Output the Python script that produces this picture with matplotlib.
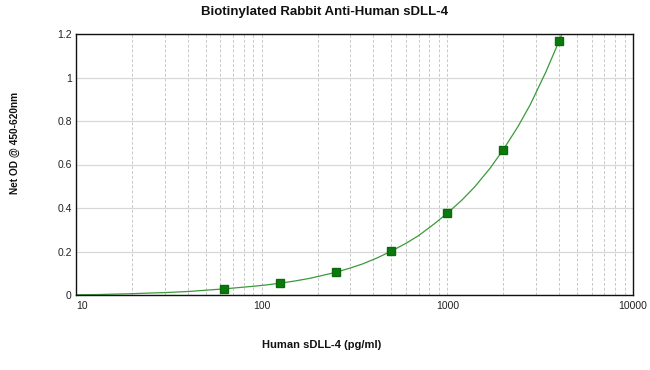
import matplotlib
matplotlib.use("Agg")
import matplotlib.pyplot as plt
from matplotlib.ticker import LogLocator, NullFormatter, FixedLocator, FixedFormatter

plt.rcParams['font.family'] = ['Liberation Sans', 'DejaVu Sans']

# Standard points (concentration pg/ml, net OD)
conc = [62.5, 125, 250, 500, 1000, 2000, 4000]
od = [0.028, 0.054, 0.104, 0.202, 0.376, 0.668, 1.168]

# Fitted curve
curve_x = [10, 13, 16, 20, 25, 30, 40, 50, 62.5, 75, 90, 105, 125, 150, 180, 210,
           250, 300, 350, 420, 500, 600, 700, 850, 1000, 1200, 1400, 1700, 2000,
           2400, 2800, 3400, 4000, 4400]
curve_y = [0.001, 0.002, 0.004, 0.006, 0.009, 0.011, 0.016, 0.022, 0.028, 0.034,
           0.040, 0.046, 0.054, 0.064, 0.076, 0.089, 0.104, 0.124, 0.143, 0.171,
           0.202, 0.238, 0.273, 0.327, 0.376, 0.437, 0.496, 0.583, 0.668, 0.774,
           0.876, 1.027, 1.168, 1.257]

x_ticks = [10, 100, 1000, 10000]
x_tick_labels = ["10", "100", "1000", "10000"]
y_ticks = [0, 0.2, 0.4, 0.6, 0.8, 1.0, 1.2]
y_tick_labels = ["0", "0.2", "0.4", "0.6", "0.8", "1", "1.2"]

fig = plt.figure(figsize=(6.5, 3.7), dpi=100)
ax = fig.add_axes([76/650, 1-295/370, (633-76)/650, (295-34)/370])

ax.set_xscale('log')
ax.set_xlim(10, 10000)
ax.set_ylim(0, 1.2)

# grid
ax.xaxis.set_minor_locator(LogLocator(base=10, subs=range(2, 10)))
ax.xaxis.set_minor_formatter(NullFormatter())
ax.grid(True, which='minor', axis='x', color='#c8c8c8', linestyle=(0, (3, 2)), linewidth=0.7)
ax.grid(True, which='major', axis='x', color='#c8c8c8', linestyle=(0, (3, 2)), linewidth=0.7)
ax.grid(True, which='major', axis='y', color='#d8d8d8', linestyle='-', linewidth=0.9)
ax.set_axisbelow(True)

ax.plot(curve_x, curve_y, color='#3a9a3a', linewidth=0.9, clip_on=True)
ax.plot(conc, od, linestyle='none', marker='s', markersize=5.5,
        color='#0b7a0b', markeredgecolor='#0b6a0b')

ax.xaxis.set_major_locator(FixedLocator(x_ticks))
ax.xaxis.set_major_formatter(FixedFormatter(x_tick_labels))
ax.yaxis.set_major_locator(FixedLocator(y_ticks))
ax.yaxis.set_major_formatter(FixedFormatter(y_tick_labels))
ax.tick_params(axis='both', which='both', length=0, labelsize=7.5, colors='#222222')
ax.tick_params(axis='x', pad=4)
ax.tick_params(axis='y', pad=3)
for lbl in ax.get_xticklabels():
    lbl.set_horizontalalignment('center')
ax.get_xticklabels()[0].set_horizontalalignment('left')

for s in ax.spines.values():
    s.set_color('#111111')
    s.set_linewidth(1.0)

fig.text(0.5, 1-12/370, "Biotinylated Rabbit Anti-Human sDLL-4", ha='center', va='center',
         fontsize=9.5, fontweight='bold', color='#111111')
fig.text(15/650, 1-143/370, "Net OD @ 450-620nm", rotation=90, ha='center', va='center',
         fontsize=7.3, fontweight='bold', color='#111111')
fig.text(0.495, 1-345/370, "Human sDLL-4 (pg/ml)", ha='center', va='center',
         fontsize=8, fontweight='bold', color='#111111')

fig.savefig("out.png", dpi=100)
